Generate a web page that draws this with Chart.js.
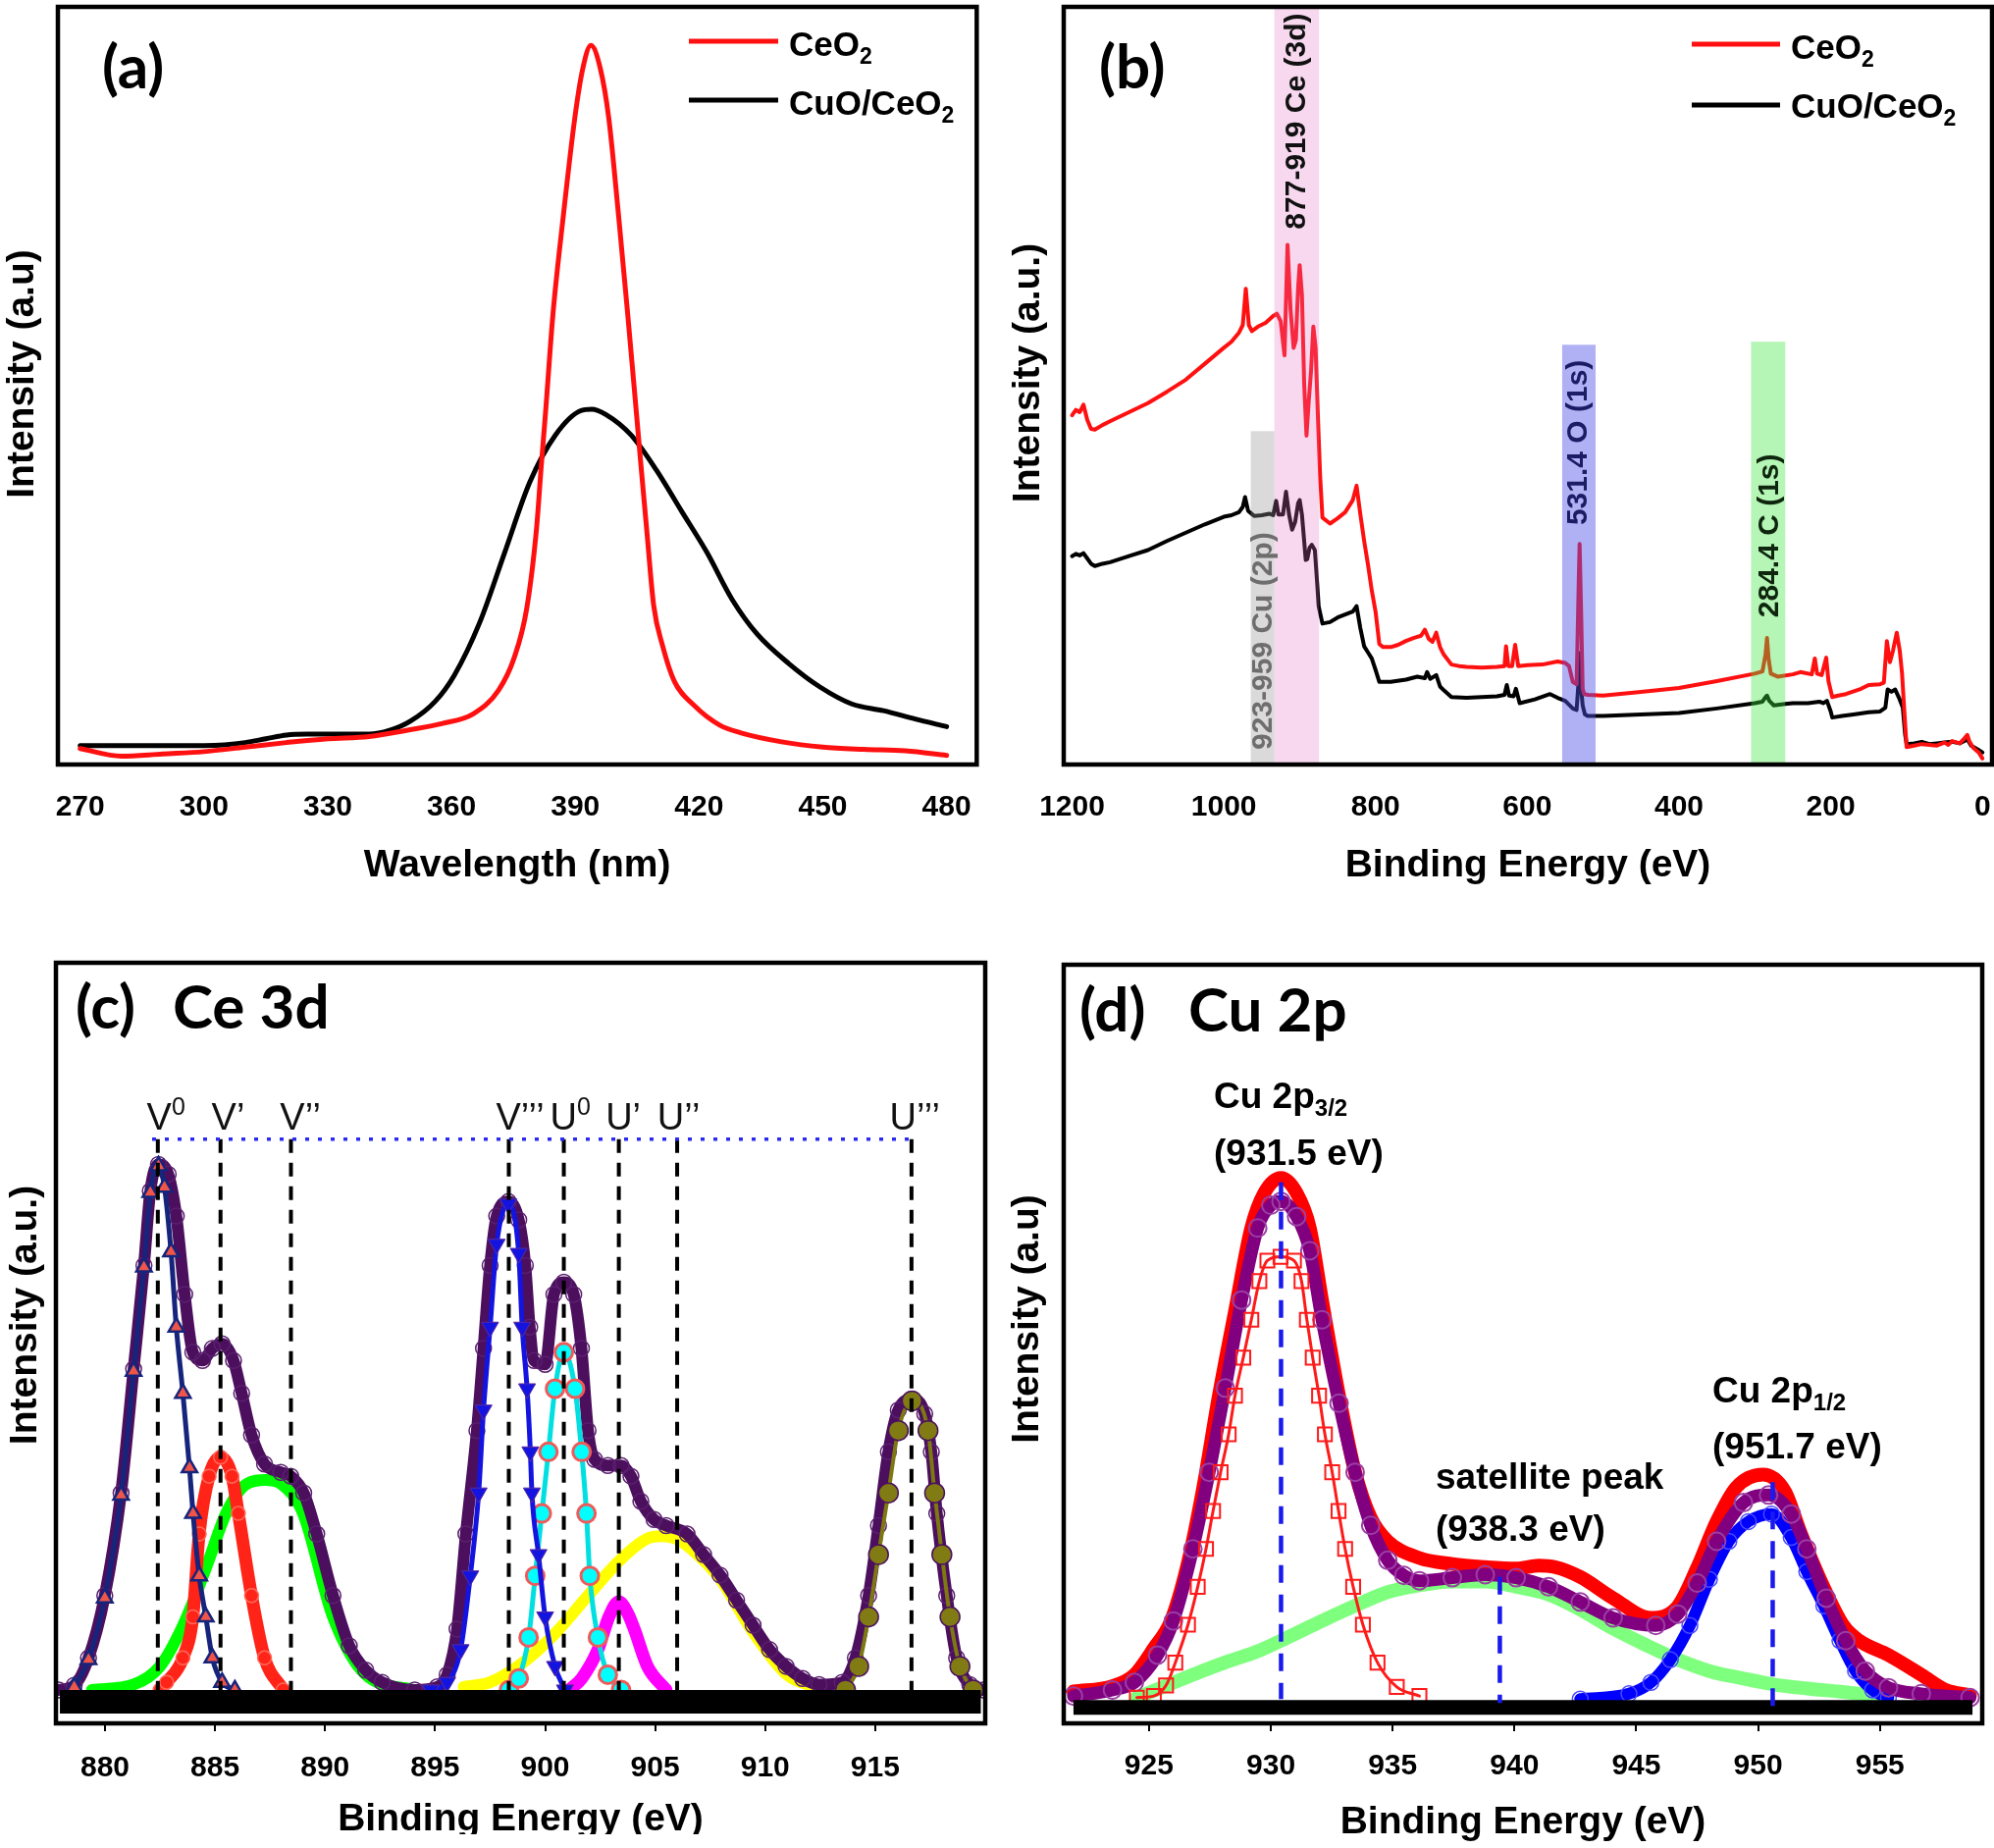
<!DOCTYPE html>
<html>
<head>
<meta charset="utf-8">
<script src="https://cdn.jsdelivr.net/npm/chart.js@4.4.1/dist/chart.umd.min.js"></script>
<style>
  html, body { margin: 0; padding: 0; background: #fff; }
  body { width: 2032px; height: 1883px; position: relative; overflow: hidden; }
  canvas { position: absolute; }
  #mask { position: absolute; left: 0; top: 1869px; width: 1016px; height: 14px; background: #fff; }
</style>
</head>
<body>
<canvas id="plA" width="1016" height="941" style="left:0;top:0;width:1016px;height:941px"></canvas>
<canvas id="plB" width="1016" height="941" style="left:1016px;top:0;width:1016px;height:941px"></canvas>
<canvas id="plC" width="1016" height="942" style="left:0;top:941px;width:1016px;height:942px"></canvas>
<canvas id="plD" width="1016" height="942" style="left:1016px;top:941px;width:1016px;height:942px"></canvas>
<div id="mask"></div>
<script>
// ---------- (a) PL spectra ----------
const plTicks = [270, 300, 330, 360, 390, 420, 450, 480];
const plCeO2Nm = [270, 280, 290, 300, 310, 320, 330, 340, 350, 357.6, 365.3, 371.4, 375.2, 378.2, 380.6, 381.7, 382.8, 384.6, 387.1, 389.9, 391.8, 393.8, 396.1, 398.1, 400.5, 402.7, 404.8, 406, 407.3, 409, 411.2, 414, 418.8, 425, 430, 440, 450, 460, 470, 480];
const plCeO2 = [2.1, 1.1, 1.4, 1.7, 2.3, 2.9, 3.4, 3.7, 4.6, 5.4, 6.7, 9.8, 14.1, 20.5, 31.1, 39, 46.5, 59.5, 72.4, 85.4, 91.8, 94.9, 91.8, 85.4, 72.4, 59.5, 46.5, 39, 31.1, 21, 15.6, 11, 7.8, 5.2, 4.2, 3.0, 2.3, 2.0, 1.8, 1.2];
const plCuONm = [270, 280, 290, 300, 305, 310, 315, 320, 325, 330, 335, 340, 345, 350, 356, 360.7, 366.8, 372.9, 379, 385.2, 391.3, 394, 397.4, 403.5, 409.6, 415.8, 421.9, 428, 434.1, 441.8, 449.4, 457, 464.7, 472.4, 480];
const plCuO = [2.5, 2.5, 2.5, 2.5, 2.6, 2.9, 3.4, 3.9, 4.0, 4.0, 4.0, 4.0, 4.5, 5.7, 8.3, 11.8, 18.7, 28.0, 37.3, 43.5, 46.7, 46.9, 46.2, 43.5, 38.9, 33.4, 28.0, 21.8, 17.2, 13.3, 10.2, 8.0, 7.1, 6.0, 5.0];

// ---------- (b) XPS survey ----------
const surveyTicks = [0, 200, 400, 600, 800, 1000, 1200];
const surveyCeO2E = [1200, 1195, 1190, 1185, 1180, 1175, 1170, 1160, 1150, 1125, 1100, 1075, 1050, 1025, 1000, 990, 980, 975, 971, 967, 963, 955, 945, 935, 930, 925, 920, 916, 912, 908, 905, 902, 900, 897, 894, 891, 888, 885, 882, 879, 876, 873, 870, 860, 850, 840, 830, 825, 820, 815, 810, 805, 800, 795, 790, 780, 770, 760, 750, 740, 735, 730, 725, 720, 715, 710, 700, 690, 680, 660, 640, 630, 628, 625, 620, 616, 612, 600, 580, 560, 550, 545, 540, 535, 532, 531, 529, 527, 525, 520, 500, 450, 400, 350, 300, 290, 286, 284, 282, 279, 270, 250, 240, 225, 221, 218, 212, 206, 203, 198, 190, 180, 160, 150, 135, 130, 126, 122, 118, 113, 109, 106, 103, 100, 90, 80, 60, 50, 45, 40, 30, 25, 20, 17, 12, 5, 0];
const surveyCeO2 = [46.1, 46.8, 46.5, 47.5, 45.5, 44.3, 44.2, 44.8, 45.3, 46.5, 47.7, 49.2, 50.8, 52.9, 55.0, 55.8, 57.0, 58, 62.8, 58, 57.2, 57.8, 58.3, 59.2, 59.5, 58.5, 54, 68.6, 60, 55, 56, 63, 65.9, 62, 50, 43.4, 48, 52, 57.8, 55, 46, 38, 32.6, 31.8, 32.5, 33.3, 34.9, 36.8, 33, 29.5, 26.4, 23, 20.2, 15.9, 15.5, 15.5, 15.8, 16.3, 16.7, 17.0, 17.8, 16.6, 16.2, 17.4, 15.5, 14.5, 13.2, 13.0, 12.9, 12.8, 12.9, 13.0, 15.6, 13.0, 13.0, 15.8, 13.0, 13.1, 13.2, 13.6, 13.4, 13.0, 10.9, 10.6, 25, 29.1, 20, 10, 9.3, 9.2, 9.1, 9.6, 10.1, 11.0, 12.0, 12.3, 14.5, 16.7, 14, 12, 11.6, 11.9, 12.2, 11.9, 14.0, 12, 11.8, 14.1, 11, 8.9, 9.1, 9.3, 10.0, 10.5, 10.6, 10.8, 16.3, 13.5, 15, 17.4, 15, 12, 7.0, 2.3, 2.5, 2.7, 2.5, 2.9, 2.6, 3.1, 2.8, 3.3, 3.9, 3.0, 2.2, 1.6, 0.8];
const surveyCuOE = [1200, 1195, 1190, 1185, 1180, 1175, 1170, 1160, 1150, 1125, 1100, 1075, 1050, 1025, 1000, 990, 980, 975, 972, 968, 960, 950, 940, 935, 931, 928, 922, 918, 914, 910, 906, 902, 900, 897, 895, 892, 890, 887, 884, 880, 877, 875, 870, 860, 850, 840, 830, 825, 820, 815, 810, 805, 800, 795, 780, 760, 745, 735, 732, 728, 720, 715, 710, 700, 680, 660, 640, 630, 627, 624, 618, 615, 610, 590, 570, 560, 550, 540, 535, 532, 531, 529, 527, 524, 520, 500, 450, 400, 350, 300, 290, 286, 284, 281, 275, 260, 250, 230, 215, 210, 205, 200, 198, 185, 170, 150, 135, 128, 125, 120, 115, 110, 105, 102, 100, 90, 80, 70, 60, 50, 40, 30, 20, 15, 10, 5, 0];
const surveyCuO = [27.5, 27.8, 27.6, 27.9, 27.2, 26.5, 26.2, 26.5, 26.7, 27.5, 28.3, 29.5, 30.6, 31.7, 32.7, 32.9, 33.3, 34, 35.3, 33.5, 32.8, 32.9, 33.1, 32.9, 34.8, 33.0, 33, 36.0, 33, 31.0, 32, 34.5, 34.9, 33, 30.6, 27, 27.1, 28.6, 29, 28.3, 24, 20.9, 18.6, 18.8, 19.4, 19.8, 20.2, 20.9, 18, 15.6, 14.8, 14.0, 12.5, 10.9, 10.9, 11.2, 11.6, 11.4, 12.2, 11.3, 11.8, 10.3, 9.8, 8.9, 8.8, 8.9, 9.0, 9.2, 10.5, 9.1, 9.0, 10.0, 8.1, 8.6, 9.3, 8.8, 8.4, 7.4, 7.2, 11.5, 14.7, 10, 7.8, 6.6, 6.4, 6.4, 6.6, 6.8, 7.4, 8.1, 8.3, 8.9, 9.1, 8.4, 7.8, 8.0, 8.1, 8.1, 8.3, 8.1, 8.4, 7, 6.2, 6.4, 6.6, 6.9, 7.0, 7.5, 9.9, 9.6, 9.9, 8.8, 7.5, 4, 2.7, 2.8, 3.0, 2.7, 2.8, 2.9, 3.0, 2.8, 3.3, 2.5, 2.2, 1.9, 1.6];
// shaded regions: [from eV, to eV, top of band (% of height), colour]
const surveyBands = [
  [874.5, 933.4, 100, 'rgba(225,110,195,0.27)'],
  [933.4, 964.5, 44.0, 'rgba(150,150,150,0.35)'],
  [510, 554, 55.4, 'rgba(80,80,230,0.45)'],
  [260, 305, 55.8, 'rgba(60,230,60,0.38)']
];
const surveyLabels = [
  ['877-919 Ce (3d)', 904, 84.9, '#111111'],
  ['923-959 Cu (2p)', 947.7, 16.3, '#6e6e6e'],
  ['531.4 O (1s)', 532, 42.5, '#1b1b66'],
  ['284.4 C (1s)', 280, 30.2, '#0e260e']
];

// ---------- (c) Ce 3d ----------
const ceTicks = [880, 885, 890, 895, 900, 905, 910, 915];
const ceEnvE = [877.9, 878.6, 879.25, 879.99, 880.73, 881.3, 881.77, 882.06, 882.43, 882.87, 883.24, 883.62, 883.99, 884.43, 884.88, 885.32, 885.84, 886.21, 886.66, 887.25, 887.99, 888.44, 889.03, 889.62, 890.36, 891.1, 891.85, 892.59, 894.07, 895.1, 895.55, 896.0, 896.4, 896.9, 897.2, 897.5, 897.8, 898.33, 898.8, 899.1, 899.3, 899.5, 900.0, 900.4, 900.85, 901.3, 901.65, 901.95, 902.25, 902.85, 903.45, 903.9, 904.35, 904.95, 905.5, 906.45, 907.2, 907.95, 908.7, 909.45, 910.2, 910.95, 911.7, 912.45, 913.5, 914.1, 914.7, 915.15, 915.6, 916.05, 916.67, 917.25, 917.55, 917.8, 918.25, 918.7, 919.3, 919.9];
const ceEnv = [4.4, 5.0, 8.6, 16.8, 30.3, 46.6, 60.2, 70.0, 73.5, 72.2, 66.7, 56.4, 48.8, 47.7, 49.3, 49.9, 47.7, 43.4, 37.9, 34.1, 33.0, 32.5, 30.3, 24.9, 16.8, 10.2, 7.0, 5.4, 4.4, 4.8, 6.4, 12.4, 24.9, 38.5, 49.3, 60.2, 66.7, 68.6, 66.2, 60.2, 52.1, 47.7, 47.2, 56.4, 58.0, 56.4, 49.3, 38.5, 34.7, 33.9, 33.9, 32.5, 29.2, 26.8, 26.0, 24.9, 22.2, 19.5, 16.2, 12.9, 9.7, 7.5, 5.9, 5.1, 5.4, 8.6, 16.8, 26.0, 35.7, 41.2, 42.6, 40.7, 35.7, 27.6, 16.8, 8.6, 5.1, 4.4];
const ceV0E = [878.6, 879.25, 879.99, 880.73, 881.3, 881.77, 882.06, 882.43, 882.7, 883.0, 883.24, 883.54, 883.84, 884.0, 884.28, 884.58, 884.88, 885.32, 885.9];
const ceV0 = [4.8, 8.4, 16.5, 30.0, 46.3, 60.0, 69.8, 73.3, 70.5, 62.0, 52.1, 43.4, 33.6, 27.6, 19.4, 14.0, 8.6, 5.4, 4.4];
const ceV1E = [882.5, 882.8, 883.54, 883.99, 884.28, 884.73, 885.25, 885.77, 886.06, 886.66, 887.25, 888.1];
const ceV1 = [4.4, 5.4, 8.6, 14.0, 24.9, 32.5, 35.0, 32.5, 27.6, 16.8, 8.6, 4.4];
const ceV2E = [879.4, 881.3, 882.5, 883.55, 884.6, 885.5, 886.4, 887.3, 888.0, 889.0, 890.36, 891.85, 894.0];
const ceV2 = [4.4, 5.1, 7.5, 12.9, 20.5, 27.6, 31.4, 32.0, 31.5, 27.6, 14.0, 6.4, 4.4];
const ceV3E = [894.8, 895.55, 896.16, 896.6, 896.98, 897.2, 897.5, 897.8, 898.33, 898.8, 898.96, 899.18, 899.33, 899.4, 899.7, 900.0, 900.45, 900.9];
const ceV3 = [4.4, 5.4, 9.7, 19.4, 30.3, 41.2, 52.1, 63.0, 68.3, 61.8, 52.1, 44.0, 35.7, 30.3, 22.2, 14.0, 7.5, 4.4];
const ceU0E = [898.36, 898.8, 899.25, 899.55, 899.85, 900.15, 900.45, 900.85, 901.36, 901.66, 901.88, 902.03, 902.4, 902.85, 903.45];
const ceU0 = [4.4, 5.9, 11.3, 19.4, 27.6, 35.7, 44.0, 48.8, 44.0, 35.7, 27.6, 19.4, 11.3, 6.4, 4.4];
const ceU1E = [901.1, 901.66, 902.4, 902.9, 903.35, 903.75, 904.05, 904.65, 905.5];
const ceU1 = [4.4, 5.9, 9.7, 14.0, 16.0, 14.5, 12.4, 7.5, 4.4];
const ceU2E = [896.3, 897.5, 899.0, 900.45, 901.95, 903.45, 904.65, 905.3, 906.0, 907.0, 907.95, 909.45, 910.95, 912.5];
const ceU2 = [4.8, 5.4, 8.0, 11.8, 16.8, 21.6, 24.3, 24.6, 24.2, 22.0, 19.0, 12.0, 6.5, 4.6];
const ceU3E = [913.65, 914.25, 914.7, 915.15, 915.6, 916.05, 916.67, 917.4, 917.7, 918.03, 918.4, 918.85, 919.45];
const ceU3 = [4.4, 7.5, 14.0, 22.2, 30.3, 38.5, 42.4, 38.5, 30.3, 22.2, 14.0, 7.5, 4.4];
const ceMarkE = [882.4, 885.25, 888.45, 898.35, 900.85, 903.35, 906.0, 916.65];
const ceMarkTop = 76.8, ceMarkBottom = 4.4;
const ceMarkNames = [['V', '0'], ['V’', ''], ['V’’', ''], ['V’’’', ''], ['U', '0'], ['U’', ''], ['U’’', ''], ['U’’’', '']];
const ceMarkTextE = [881.9, 884.84, 887.95, 897.77, 900.22, 902.75, 905.1, 915.65];

// ---------- (d) Cu 2p ----------
const cuTicks = [925, 930, 935, 940, 945, 950, 955];
const cuRawE = [921.9, 923.5, 924.4, 925.2, 925.9, 926.55, 927.2, 927.87, 928.53, 929.2, 929.73, 930.42, 931.06, 931.6, 932.1, 932.8, 933.46, 934.1, 934.8, 936.1, 937.45, 938.8, 940.07, 941.0, 941.66, 942.7, 944.05, 945.6, 946.7, 947.5, 948.3, 949.1, 950.2, 951.1, 951.76, 952.7, 953.5, 954.15, 955.35, 956.7, 957.7, 958.7];
const cuRaw = [4.2, 4.9, 6.4, 9.9, 13.5, 20.5, 30.6, 43.2, 54.3, 65.3, 69.9, 71.9, 69.9, 65.3, 55.8, 43.2, 33.1, 27.1, 24.0, 21.8, 21.0, 20.6, 20.4, 20.8, 20.6, 19.3, 16.5, 13.9, 15.4, 20.5, 26.6, 31.1, 32.8, 30.6, 25.0, 17.9, 12.9, 10.9, 9.0, 6.4, 4.4, 3.7];
const cuFitE = [921.9, 923.5, 924.4, 925.35, 926.0, 926.8, 927.47, 928.13, 928.8, 929.46, 930.0, 930.42, 931.06, 931.6, 932.1, 932.8, 933.46, 934.1, 934.8, 935.46, 936.1, 937.45, 938.8, 940.07, 941.4, 942.7, 944.05, 945.8, 946.7, 947.5, 948.3, 949.4, 950.43, 951.36, 952.0, 952.8, 953.6, 954.4, 955.35, 956.7, 958.7];
const cuFit = [3.6, 4.4, 5.4, 9.0, 13.5, 23.0, 33.1, 44.2, 55.8, 65.3, 68.3, 68.8, 66.8, 62.3, 53.2, 42.2, 33.1, 26.1, 21.5, 19.5, 18.8, 19.2, 19.6, 19.2, 18.0, 16.0, 13.9, 12.9, 14.4, 18.5, 24.0, 29.1, 30.1, 27.6, 23.0, 16.5, 10.9, 6.9, 4.7, 3.9, 3.4];
const cu32E = [924.5, 925.2, 925.7, 926.08, 926.6, 927.0, 927.34, 927.63, 927.94, 928.27, 928.53, 928.87, 929.2, 929.53, 929.86, 930.4, 930.95, 931.26, 931.48, 931.72, 931.98, 932.22, 932.52, 932.78, 933.05, 933.38, 933.78, 934.38, 935.17, 936.1];
const cu32 = [3.4, 3.6, 5.0, 8.0, 13.0, 18.0, 23.0, 28.0, 33.1, 38.1, 43.2, 48.2, 53.2, 58.3, 61.0, 61.5, 61.0, 58.3, 53.2, 48.2, 43.2, 38.1, 33.1, 28.0, 23.0, 18.0, 13.0, 8.0, 4.8, 3.6];
const cuSatE = [924.5, 925.5, 926.8, 928.1, 929.46, 930.8, 932.1, 933.46, 934.8, 936.1, 937.45, 938.8, 940.07, 941.4, 942.7, 944.05, 945.35, 946.7, 948.0, 949.4, 950.7, 952.0, 953.3, 955.0];
const cuSat = [3.4, 4.7, 6.4, 8.0, 9.5, 11.5, 13.5, 15.5, 17.3, 18.2, 18.7, 18.7, 18.0, 17.0, 15.0, 12.5, 10.4, 8.4, 6.9, 5.9, 5.1, 4.6, 4.2, 3.6];
const cu12E = [942.7, 944.7, 945.6, 946.4, 947.2, 948.0, 948.8, 949.6, 950.55, 951.36, 952.0, 952.7, 953.36, 954.0, 954.7, 955.35];
const cu12 = [3.2, 3.9, 5.4, 8.4, 12.9, 19.0, 24.0, 26.6, 27.6, 24.5, 20.0, 15.5, 10.9, 6.9, 4.4, 3.4];
const cuMarkE = [930.42, 939.4, 950.6];
const cuMarkTop = [71.3, 19.3, 31.8];
const cuMarkBottom = [3.2, 2.7, 2.2];

// ---------- shared helpers ----------
const SANS = '"Liberation Sans", Arial, sans-serif';
const ROUND = 'Lato, "Open Sans", sans-serif';

function pts(xs, ys) {
  return xs.map((x, i) => ({x: x, y: ys[i]}));
}

function series(data, o) {
  return Object.assign({
    data: data, fill: false, borderWidth: 4, pointRadius: 0, tension: 0,
    borderJoinStyle: 'round', borderCapStyle: 'round'
  }, o);
}

function xAxis(min, max, ticks, title, height, pad, opts) {
  opts = opts || {};
  return {
    type: 'linear', min: min, max: max, reverse: !!opts.reverse,
    grid: {display: !!opts.marks, drawOnChartArea: false, drawTicks: !!opts.marks, tickLength: 8, color: '#000', lineWidth: 2},
    border: {display: false},
    afterBuildTicks: s => { s.ticks = ticks.map(v => ({value: v})); },
    afterFit: s => { s.height = height; },
    ticks: {
      padding: pad, color: '#000', autoSkip: false, maxRotation: 0,
      font: {family: SANS, size: 30, weight: 'bold'},
      callback: v => String(v)
    },
    title: {display: true, text: title, color: '#000', padding: 0, font: {family: SANS, size: 39, weight: 'bold'}}
  };
}

function drawRich(ctx, it) {
  const size = it.size, w = it.weight || 'bold', fam = it.family || SANS;
  const parts = typeof it.text === 'string' ? [[it.text, '']] : it.text;
  const fonts = parts.map(p => w + ' ' + (p[1] ? Math.round(size * 0.66) : size) + 'px ' + fam);
  ctx.save();
  ctx.fillStyle = it.color || '#000';
  ctx.textBaseline = it.baseline || 'alphabetic';
  ctx.translate(it.x, it.y);
  if (it.rot) ctx.rotate(it.rot * Math.PI / 180);
  let total = 0;
  parts.forEach((p, i) => { ctx.font = fonts[i]; total += ctx.measureText(p[0]).width; });
  let cx = it.align === 'center' ? -total / 2 : 0;
  parts.forEach((p, i) => {
    ctx.font = fonts[i];
    const dy = p[1] === 'sub' ? size * 0.22 : p[1] === 'sup' ? -size * 0.4 : 0;
    ctx.fillText(p[0], cx, dy);
    cx += ctx.measureText(p[0]).width;
  });
  ctx.restore();
}

// frame + texts + legend samples, drawn on top of everything
function decor(items, legend) {
  return {
    id: 'decor',
    afterDraw(chart) {
      const {ctx, chartArea: a} = chart;
      ctx.save();
      ctx.lineWidth = 4.5;
      ctx.strokeStyle = '#000';
      ctx.strokeRect(a.left, a.top, a.right - a.left, a.bottom - a.top);
      (legend || []).forEach(l => {
        ctx.beginPath();
        ctx.lineWidth = 5;
        ctx.strokeStyle = l.color;
        ctx.moveTo(l.x1, l.y);
        ctx.lineTo(l.x2, l.y);
        ctx.stroke();
      });
      ctx.restore();
      items.forEach(it => drawRich(ctx, it));
    }
  };
}

const baseOptions = (padding, x) => ({
  responsive: false, animation: false, devicePixelRatio: 1, events: [],
  layout: {padding: padding},
  plugins: {legend: {display: false}, tooltip: {enabled: false}},
  scales: {x: x, y: {type: 'linear', min: 0, max: 100, display: false}}
});

const legendText = (t, x, y) => ({text: t, x: x, y: y, size: 35});
const ceo2 = [['CeO', ''], ['2', 'sub']];
const cuoCeo2 = [['CuO/CeO', ''], ['2', 'sub']];

// ---------- chart (a) ----------
new Chart(document.getElementById('plA'), {
  type: 'line',
  data: {datasets: [
    series(pts(plCeO2Nm, plCeO2), {borderColor: '#ff1010', borderWidth: 5, cubicInterpolationMode: 'monotone'}),
    series(pts(plCuONm, plCuO), {borderColor: '#000000', borderWidth: 5, cubicInterpolationMode: 'monotone'})
  ]},
  options: baseOptions({left: 59, right: 10, top: 7, bottom: 35},
    xAxis(264.6, 487.3, plTicks, 'Wavelength (nm)', 127, 26)),
  plugins: [decor([
    {text: '(a)', x: 104, y: 90, size: 62, family: ROUND},
    {text: 'Intensity (a.u)', x: 23, y: 381, size: 39, rot: -90, align: 'center', baseline: 'middle'},
    legendText(ceo2, 804, 57),
    legendText(cuoCeo2, 804, 117)
  ], [
    {x1: 702, x2: 793, y: 42, color: '#ff1010'},
    {x1: 702, x2: 793, y: 102, color: '#000'}
  ])]
});

// ---------- chart (b) ----------
const bandPlugin = {
  id: 'bands',
  afterDatasetsDraw(chart) {
    const {ctx, chartArea: a, scales: {x, y}} = chart;
    ctx.save();
    surveyBands.forEach(b => {
      const x1 = x.getPixelForValue(b[0]), x2 = x.getPixelForValue(b[1]);
      const top = b[2] >= 100 ? a.top : y.getPixelForValue(b[2]);
      ctx.fillStyle = b[3];
      ctx.fillRect(Math.min(x1, x2), top, Math.abs(x2 - x1), a.bottom - top);
    });
    ctx.restore();
    surveyLabels.forEach(l => drawRich(ctx, {
      text: l[0], x: x.getPixelForValue(l[1]), y: y.getPixelForValue(l[2]),
      size: 30, color: l[3], rot: -90, align: 'center', baseline: 'middle'
    }));
  }
};

new Chart(document.getElementById('plB'), {
  type: 'line',
  data: {datasets: [
    series(pts(surveyCeO2E, surveyCeO2), {borderColor: '#ff1010', borderWidth: 4}),
    series(pts(surveyCuOE, surveyCuO), {borderColor: '#000000', borderWidth: 4})
  ]},
  options: baseOptions({left: 68, right: 2, top: 7, bottom: 35},
    xAxis(-12.6, 1211, surveyTicks, 'Binding Energy (eV)', 127, 26, {reverse: true})),
  plugins: [bandPlugin, decor([
    {text: '(b)', x: 104, y: 90, size: 62, family: ROUND},
    {text: 'Intensity (a.u.)', x: 32, y: 380, size: 39, rot: -90, align: 'center', baseline: 'middle'},
    legendText(ceo2, 809, 60),
    legendText(cuoCeo2, 809, 120)
  ], [
    {x1: 708, x2: 798, y: 45, color: '#ff1010'},
    {x1: 708, x2: 798, y: 107, color: '#000'}
  ])]
});

// ---------- chart (c) ----------
const ceMarkSets = ceMarkE.map(e => series(
  [{x: e, y: ceMarkTop}, {x: e, y: ceMarkBottom}],
  {borderColor: '#000', borderWidth: 4, borderDash: [14, 10], borderCapStyle: 'butt', order: -1}
));
const ceLabelPlugin = {
  id: 'ceLabels',
  afterDraw(chart) {
    const x = chart.scales.x, y = chart.scales.y;
    ceMarkNames.forEach((n, i) => drawRich(chart.ctx, {
      text: [[n[0], ''], [n[1], 'sup']], x: x.getPixelForValue(ceMarkTextE[i]),
      y: y.getPixelForValue(78.1), size: 38, weight: 'normal', color: '#111'
    }));
  }
};

new Chart(document.getElementById('plC'), {
  type: 'line',
  data: {datasets: [
    series(pts([877.95, 919.8], [2.85, 2.85]), {borderColor: '#000', borderWidth: 24, borderCapStyle: 'butt', order: 1}),
    series(pts(ceV0E, ceV0), {borderColor: '#16247c', borderWidth: 5, cubicInterpolationMode: 'monotone',
      pointStyle: 'triangle', pointRadius: 9, pointBackgroundColor: '#ef5548', pointBorderColor: '#16247c', pointBorderWidth: 2.5, order: 2}),
    series(pts(ceV3E, ceV3), {borderColor: '#1414e0', borderWidth: 5, cubicInterpolationMode: 'monotone',
      pointStyle: 'triangle', pointRotation: 180, pointRadius: 10, pointBackgroundColor: '#1414e0', pointBorderColor: '#5a2a9a', pointBorderWidth: 1, order: 2}),
    series(pts(ceU0E, ceU0), {borderColor: '#00e0e0', borderWidth: 5, cubicInterpolationMode: 'monotone',
      pointStyle: 'circle', pointRadius: 9, pointBackgroundColor: '#00ffff', pointBorderColor: '#f05a5a', pointBorderWidth: 3, order: 2}),
    series(pts(ceU3E, ceU3), {borderColor: '#7d7812', borderWidth: 4, cubicInterpolationMode: 'monotone',
      pointStyle: 'circle', pointRadius: 10, pointBackgroundColor: '#817b14', pointBorderColor: '#4b1060', pointBorderWidth: 1.5, order: 2}),
    series(pts(ceV1E, ceV1), {borderColor: '#ff2318', borderWidth: 13, cubicInterpolationMode: 'monotone',
      pointStyle: 'circle', pointRadius: 7, pointBackgroundColor: '#ff2318', pointBorderColor: '#ff6a5a', pointBorderWidth: 1.5, order: 3}),
    series(pts(ceU1E, ceU1), {borderColor: '#ff00ff', borderWidth: 13, cubicInterpolationMode: 'monotone', order: 3}),
    series(pts(ceEnvE, ceEnv), {borderColor: '#4b0f5e', borderWidth: 12, cubicInterpolationMode: 'monotone',
      pointStyle: 'circle', pointRadius: 8, pointBackgroundColor: 'rgba(0,0,0,0)', pointBorderColor: '#5a1f6e', pointBorderWidth: 1.5, order: 5}),
    series(pts(ceV2E, ceV2), {borderColor: '#00ff00', borderWidth: 12, cubicInterpolationMode: 'monotone', order: 6}),
    series(pts(ceU2E, ceU2), {borderColor: '#ffff00', borderWidth: 12, cubicInterpolationMode: 'monotone', order: 6}),
    series(pts([882.14, 916.9], [ceMarkTop, ceMarkTop]), {borderColor: '#2a2af0', borderWidth: 3.5, borderDash: [4, 9], borderCapStyle: 'butt', order: -1})
  ].concat(ceMarkSets)},
  options: baseOptions({left: 57, right: 10, top: 40, bottom: 5},
    xAxis(877.77, 920.0, ceTicks, 'Binding Energy (eV)', 122, 19.5, {marks: true})),
  plugins: [ceLabelPlugin, decor([
    {text: '(c)', x: 77, y: 107, size: 62, family: ROUND},
    {text: 'Ce 3d', x: 176, y: 107, size: 62, family: ROUND},
    {text: 'Intensity (a.u.)', x: 26, y: 399, size: 39, rot: -90, align: 'center', baseline: 'middle'}
  ])]
});

// ---------- chart (d) ----------
const cuMarkSets = cuMarkE.map((e, i) => series(
  [{x: e, y: cuMarkTop[i]}, {x: e, y: cuMarkBottom[i]}],
  {borderColor: '#1a1aee', borderWidth: 4.5, borderDash: [18, 12], borderCapStyle: 'butt', order: -1}
));

new Chart(document.getElementById('plD'), {
  type: 'line',
  data: {datasets: [
    series(pts([921.9, 958.8], [2.1, 2.1]), {borderColor: '#000', borderWidth: 15, borderCapStyle: 'butt', order: 1}),
    series(pts(cu32E, cu32), {borderColor: '#ff1a1a', borderWidth: 3, cubicInterpolationMode: 'monotone',
      pointStyle: 'rect', pointRadius: 10, pointBackgroundColor: 'rgba(0,0,0,0)', pointBorderColor: '#ff1a1a', pointBorderWidth: 2, order: 2}),
    series(pts(cuFitE, cuFit), {borderColor: '#800080', borderWidth: 13, cubicInterpolationMode: 'monotone',
      pointStyle: 'circle', pointRadius: 9, pointBackgroundColor: 'rgba(0,0,0,0)', pointBorderColor: '#9c3ea4', pointBorderWidth: 2, order: 3}),
    series(pts(cu12E, cu12), {borderColor: '#0000ff', borderWidth: 12, cubicInterpolationMode: 'monotone',
      pointStyle: 'circle', pointRadius: 8, pointBackgroundColor: 'rgba(0,0,0,0)', pointBorderColor: '#4a4aff', pointBorderWidth: 1.5, order: 4}),
    series(pts(cuSatE, cuSat), {borderColor: 'rgba(40,255,40,0.6)', borderWidth: 14, cubicInterpolationMode: 'monotone', order: 5}),
    series(pts(cuRawE, cuRaw), {borderColor: '#ff0000', borderWidth: 14, cubicInterpolationMode: 'monotone', order: 6})
  ].concat(cuMarkSets)},
  options: baseOptions({left: 68, right: 2, top: 42, bottom: 2},
    xAxis(921.5, 959.2, cuTicks, 'Binding Energy (eV)', 125, 18, {marks: true})),
  plugins: [decor([
    {text: '(d)', x: 84, y: 110, size: 62, family: ROUND},
    {text: 'Cu 2p', x: 195, y: 110, size: 62, family: ROUND},
    {text: 'Intensity (a.u)', x: 31, y: 403, size: 39, rot: -90, align: 'center', baseline: 'middle'},
    {text: [['Cu 2p', ''], ['3/2', 'sub']], x: 221, y: 188, size: 37},
    {text: '(931.5 eV)', x: 221, y: 246, size: 37},
    {text: 'satellite peak', x: 447, y: 576, size: 37},
    {text: '(938.3 eV)', x: 447, y: 629, size: 37},
    {text: [['Cu 2p', ''], ['1/2', 'sub']], x: 729, y: 488, size: 37},
    {text: '(951.7 eV)', x: 729, y: 545, size: 37}
  ])]
});
</script>
</body>
</html>
